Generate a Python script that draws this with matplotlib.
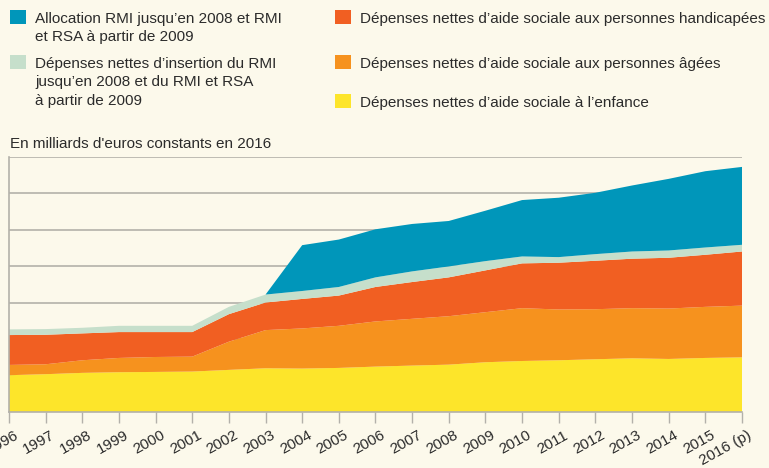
import matplotlib
matplotlib.use("Agg")
import matplotlib.pyplot as plt
from matplotlib.patches import Rectangle
from matplotlib.transforms import ScaledTranslation

plt.rcParams['font.family'] = ['Liberation Sans', 'DejaVu Sans']

years = list(range(1996, 2017))
tick_labels = [str(y) for y in years[:-1]] + ["2016 (p)"]

# en milliards d'euros constants 2016
enfance = [5.05, 5.19, 5.37, 5.46, 5.50, 5.55, 5.78, 6.00, 5.96, 6.05, 6.23,
           6.37, 6.50, 6.83, 7.00, 7.10, 7.24, 7.37, 7.28, 7.42, 7.50]
agees = [1.41, 1.36, 1.73, 1.96, 2.05, 2.05, 3.87, 5.24, 5.51, 5.78, 6.20,
         6.42, 6.65, 6.87, 7.25, 6.97, 6.87, 6.88, 6.92, 7.01, 7.10]
handicap = [4.10, 4.05, 3.69, 3.55, 3.42, 3.37, 3.78, 3.79, 4.05, 4.15, 4.73,
            5.05, 5.33, 5.74, 6.15, 6.42, 6.65, 6.79, 6.97, 7.15, 7.43]
insertion = [0.78, 0.78, 0.77, 0.86, 0.86, 0.86, 1.00, 1.09, 1.09, 1.18, 1.32,
             1.46, 1.50, 1.27, 0.95, 0.77, 0.91, 0.99, 1.00, 1.00, 0.92]
allocation = [0, 0, 0, 0, 0, 0, 0, 0, 6.29, 6.51, 6.60,
              6.51, 6.24, 6.92, 7.74, 8.15, 8.42, 9.06, 9.83, 10.47, 10.69]

labels = [
    ["Dépenses nettes d\u2019aide sociale à l\u2019enfance"],
    ["Dépenses nettes d\u2019aide sociale aux personnes âgées"],
    ["Dépenses nettes d\u2019aide sociale aux personnes handicapées"],
    ["Dépenses nettes d\u2019insertion du RMI",
     "jusqu\u2019en 2008 et du RMI et RSA", "à partir de 2009"],
    ["Allocation RMI jusqu\u2019en 2008 et RMI", "et RSA à partir de 2009"],
]
colors = ["#FDE52A", "#F6921E", "#F15F22", "#C6DFCB", "#0096BA"]

bg = "#FCF9EB"
grid_col = "#B3B1AA"
txt_col = "#2B2B2B"
W, H = 769, 468

fig = plt.figure(figsize=(W / 100, H / 100), dpi=100, facecolor=bg)
ax = fig.add_axes([9 / W, 1 - 412 / H, (742 - 9) / W, (412 - 157) / H])
ax.set_facecolor(bg)

ax.stackplot(years, enfance, agees, handicap, insertion, allocation,
             colors=colors, linewidth=0, zorder=2)

ax.set_xlim(1996, 2016)
ax.set_ylim(0, 35)
ax.set_yticks(range(0, 36, 5))
ax.yaxis.grid(True, color=grid_col, linewidth=1.2, zorder=0)
ax.set_axisbelow(True)
ax.tick_params(axis='y', length=0, labelleft=False)
ax.set_xticks(years)
ax.set_xticklabels(tick_labels, rotation=29, ha='right', rotation_mode='anchor',
                   fontsize=11, color=txt_col)
ax.tick_params(axis='x', length=8, width=1, color=grid_col, pad=3.5)
shift = ScaledTranslation(5 / 100, 0, fig.dpi_scale_trans)
for lab in ax.get_xticklabels():
    lab.set_transform(lab.get_transform() + shift)
for s in ['top', 'right']:
    ax.spines[s].set_visible(False)
for s in ['left', 'bottom']:
    ax.spines[s].set_color(grid_col)
    ax.spines[s].set_linewidth(1.2)


def legend_item(x, y, color, lines):
    # x, y: top-left of the colour square in pixels; first baseline at y + 13
    fig.patches.append(Rectangle((x / W, 1 - (y + 14) / H), 16 / W, 14 / H,
                                 transform=fig.transFigure, facecolor=color,
                                 edgecolor='none'))
    for i, line in enumerate(lines):
        fig.text((x + 25) / W, 1 - (y + 13 + 18.4 * i) / H, line, fontsize=11,
                 color=txt_col, va='baseline', ha='left')


legend_item(10, 10, colors[4], labels[4])
legend_item(10, 55, colors[3], labels[3])
legend_item(335, 10, colors[2], labels[2])
legend_item(335, 55, colors[1], labels[1])
legend_item(335, 94, colors[0], labels[0])

fig.text(10 / W, 1 - 148 / H, "En milliards d'euros constants en 2016",
         fontsize=11, color=txt_col, va='baseline', ha='left')

fig.savefig("out.png", dpi=100, facecolor=bg)
